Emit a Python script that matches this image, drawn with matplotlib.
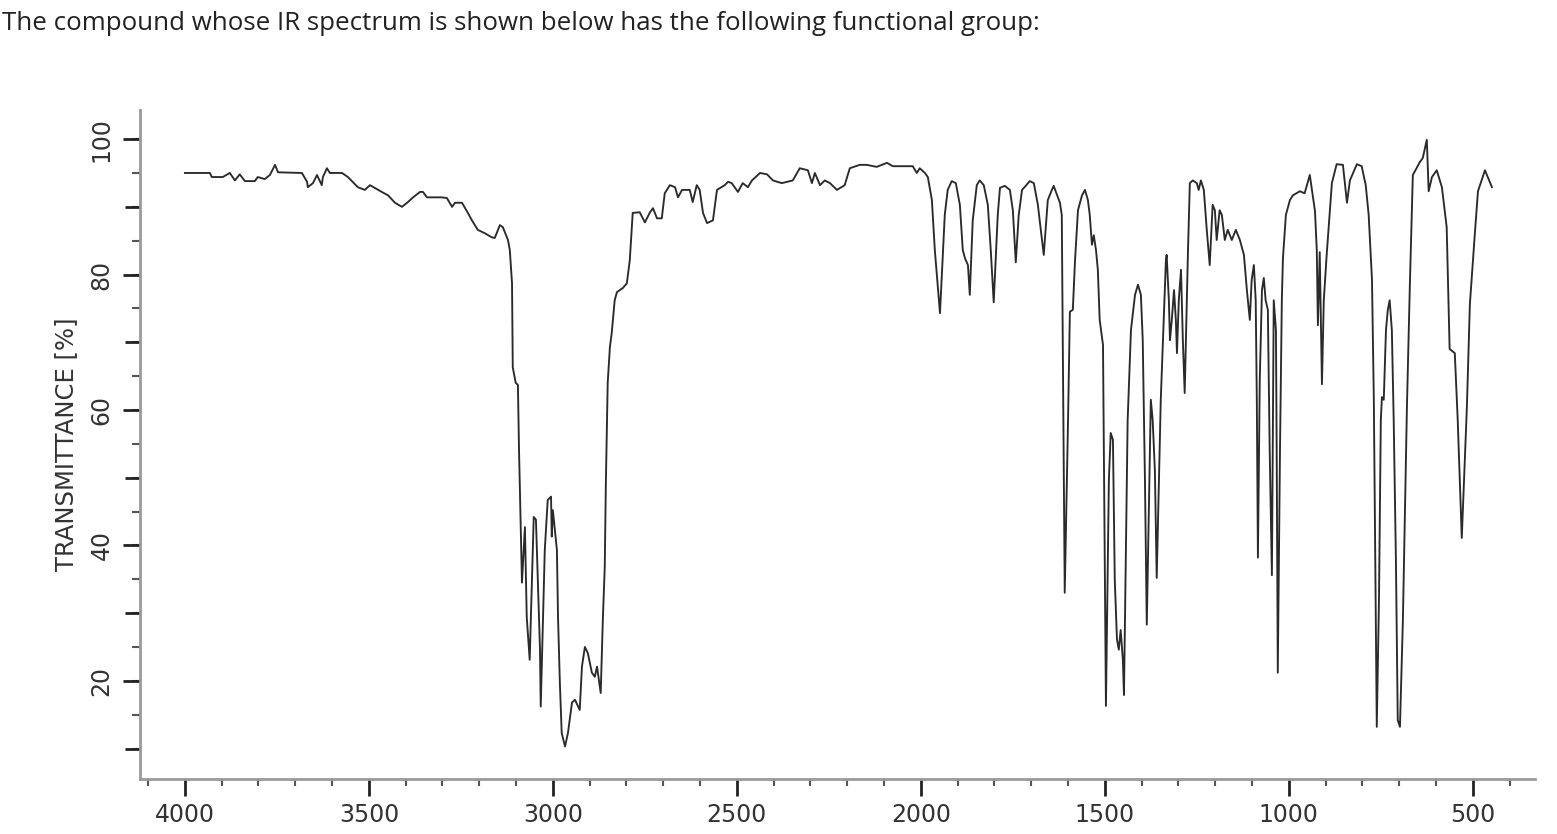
import matplotlib
matplotlib.use("Agg")
import matplotlib.pyplot as plt
from matplotlib.ticker import MultipleLocator, FixedLocator, NullFormatter

title_text = "The compound whose IR spectrum is shown below has the following functional group:"
y_label = "TRANSMITTANCE [%]"

wavenumber = [
    4000, 3932, 3927, 3897, 3878, 3864, 3851, 3837, 3810, 3802, 3783, 3769, 3755, 3747,
    3682, 3668, 3666, 3652, 3641, 3628, 3625, 3614, 3606, 3573, 3557, 3530, 3511, 3497,
    3465, 3448, 3429, 3410, 3394, 3380, 3361, 3353, 3342, 3302, 3288, 3274, 3266, 3247,
    3231, 3220, 3204, 3185, 3166, 3158, 3144, 3136, 3122, 3117, 3111, 3109, 3101, 3095,
    3092, 3087, 3084, 3076, 3071, 3063, 3052, 3046, 3035, 3033, 3022, 3014, 3005, 3003,
    3000, 2989, 2986, 2981, 2976, 2967, 2959, 2948, 2940, 2927, 2921, 2913, 2905, 2894,
    2886, 2880, 2870, 2864, 2859, 2856, 2851, 2845, 2840, 2832, 2826, 2810, 2799, 2791,
    2783, 2764, 2750, 2736, 2728, 2717, 2704, 2696, 2682, 2668, 2660, 2649, 2628, 2620,
    2609, 2601, 2592, 2581, 2565, 2554, 2533, 2524, 2514, 2497, 2484, 2470, 2459, 2437,
    2418, 2402, 2378, 2348, 2329, 2307, 2296, 2288, 2274, 2261, 2247, 2228, 2207, 2193,
    2166, 2147, 2120, 2092, 2076, 2022, 2011, 2003, 1989, 1981,
    1970, 1962, 1948, 1935, 1927, 1916, 1905, 1894, 1886, 1880, 1872, 1867, 1859, 1848,
    1840, 1829, 1818, 1810, 1802, 1791, 1785, 1772, 1758, 1750, 1742, 1734, 1725, 1715,
    1704, 1693, 1682, 1666, 1655, 1644, 1639, 1633, 1622, 1617, 1609, 1600, 1595, 1587,
    1581, 1573, 1562, 1554, 1546, 1541, 1535, 1530, 1524, 1519, 1514, 1505, 1497, 1489,
    1484, 1478, 1473, 1467, 1462, 1457, 1451, 1448, 1443, 1438, 1429, 1418, 1410, 1402,
    1397, 1391, 1386, 1380, 1375, 1370, 1364, 1359, 1353, 1348, 1342, 1334, 1332, 1326,
    1323, 1318, 1312, 1307, 1304, 1299, 1293, 1288, 1283, 1274, 1269, 1261, 1250, 1245,
    1239, 1231, 1223, 1215, 1207, 1201, 1196, 1188, 1182, 1174, 1166, 1155, 1144, 1133,
    1122, 1114, 1106, 1101, 1095, 1090, 1087, 1084, 1079, 1073, 1068, 1063, 1057, 1052,
    1046, 1043, 1041, 1035, 1033, 1030, 1024, 1019, 1016, 1008, 997, 989, 970, 957,
    943, 929, 924, 921, 916, 910, 905, 897, 883, 870, 853, 842, 834, 815, 802, 791, 783,
    774, 769, 761, 755, 750, 747, 742, 736, 731, 726, 720, 715, 709, 704, 698, 690, 679,
    671, 663, 644, 636, 625, 620, 611, 598, 584, 571, 563, 549, 541, 530, 516, 508, 494,
    486, 467, 448,
]

transmittance = [
    95.0, 95.0, 94.4, 94.4, 95.0, 93.9, 94.8, 93.8, 93.8, 94.4, 94.1, 94.7, 96.2, 95.1,
    95.0, 93.7, 92.9, 93.5, 94.7, 93.2, 94.4, 95.7, 95.0, 95.0, 94.4, 92.9, 92.5, 93.2,
    92.2, 91.7, 90.6, 90.0, 90.7, 91.4, 92.2, 92.2, 91.4, 91.4, 91.3, 90.0, 90.6, 90.6,
    89.1, 88.0, 86.6, 86.1, 85.5, 85.4, 87.3, 87.0, 85.1, 83.6, 78.7, 66.3, 64.0, 63.7,
    54.1, 41.8, 34.5, 42.7, 29.4, 23.1, 44.2, 43.8, 24.6, 16.2, 39.3, 46.7, 47.2, 41.3,
    45.2, 39.3, 29.4, 19.7, 12.3, 10.3, 12.3, 16.8, 17.2, 15.7, 22.1, 25.0, 24.1, 21.2,
    20.6, 22.1, 18.2, 29.4, 36.8, 49.2, 64.0, 69.3, 71.4, 76.2, 77.4, 78.0, 78.7, 82.1,
    89.1, 89.2, 87.7, 89.2, 89.8, 88.3, 88.3, 92.0, 93.2, 92.9, 91.4, 92.5, 92.5, 90.7,
    93.2, 92.5, 89.1, 87.6, 88.0, 92.5, 93.2, 93.7, 93.5, 92.2, 93.5, 92.9, 93.9, 95.0,
    94.8, 93.9, 93.5, 93.9, 95.7, 95.4, 93.5, 95.0, 93.2, 93.9, 93.5, 92.5, 93.2, 95.7,
    96.2, 96.2, 95.9, 96.5, 96.0, 96.0, 95.0, 95.7, 95.0, 94.4,
    91.0, 83.6, 74.3, 88.8, 92.5, 93.8, 93.5, 90.3, 83.6, 82.4, 81.4, 77.0, 88.0, 93.2,
    93.9, 93.2, 90.3, 83.6, 75.9, 88.8, 92.8, 93.1, 92.5, 89.5, 81.8, 88.8, 92.5, 93.1,
    93.8, 93.5, 90.3, 82.9, 91.0, 92.5, 93.1, 92.2, 90.6, 88.8, 33.0, 58.5, 74.5, 74.8,
    82.1, 89.5, 91.7, 92.5, 91.0, 88.8, 84.4, 85.8, 83.6, 80.7, 73.3, 69.6, 16.3, 49.7,
    56.6, 55.6, 34.9, 26.1, 24.6, 27.5, 23.1, 17.9, 37.9, 58.5, 71.8, 77.0, 78.5, 77.0,
    70.3, 49.7, 28.3, 46.7, 61.5, 58.5, 51.1, 35.2, 49.7, 61.5, 70.3, 82.1, 82.9, 76.2,
    70.3, 73.3, 77.7, 73.3, 68.4, 76.2, 80.7, 70.3, 62.5, 83.6, 93.5, 93.9, 93.5, 92.5,
    93.9, 92.5, 86.6, 81.4, 90.3, 89.5, 85.1, 89.5, 88.8, 85.1, 86.6, 85.1, 86.6, 85.1,
    82.9, 77.7, 73.3, 79.2, 81.4, 76.2, 61.5, 38.2, 64.4, 77.7, 79.5, 76.2, 74.8, 54.1,
    35.6, 61.5, 76.2, 71.8, 54.1, 21.2, 54.1, 76.2, 82.4, 88.8, 91.0, 91.7, 92.3, 92.0,
    94.7, 89.4, 83.6, 72.5, 83.3, 63.8, 76.2, 83.0, 93.5, 96.3, 96.2, 90.6, 93.9, 96.3,
    96.0, 93.2, 88.8,
    79.2, 61.5, 13.2, 32.0, 58.5, 61.9, 61.5, 71.8, 74.8, 76.2, 71.8, 58.5, 37.9, 14.2,
    13.2, 29.0, 60.6, 78.6, 94.7, 96.6, 97.2, 99.9, 92.3, 94.4, 95.4, 92.9, 87.0, 69.0,
    68.4, 58.5, 41.1, 60.6, 75.6, 86.4, 92.3, 95.4, 92.9,
]

x_major_ticks = [4000, 3500, 3000, 2500, 2000, 1500, 1000, 500]
y_major_ticks = [20, 40, 60, 80, 100]

W, H = 1557, 834
fig = plt.figure(figsize=(W / 100, H / 100), dpi=100)
ax = fig.add_axes([140 / W, 1 - 779 / H, (1535 - 140) / W, (779 - 110) / H])

ax.plot(wavenumber, transmittance, color="#2a2a2a", lw=1.35, solid_joinstyle="round")

ax.set_xlim(4122, 331)
ax.set_ylim(5.5, 104.3)

for s in ["top", "right"]:
    ax.spines[s].set_visible(False)
for s in ["left", "bottom"]:
    ax.spines[s].set_color("#9a9a9a")
    ax.spines[s].set_linewidth(2.0)

ax.xaxis.set_major_locator(FixedLocator(x_major_ticks))
ax.xaxis.set_minor_locator(MultipleLocator(100))
ax.yaxis.set_major_locator(FixedLocator(y_major_ticks))
ax.yaxis.set_minor_locator(MultipleLocator(10))

ax.tick_params(axis="both", which="major", length=12, width=2.0, color="#222222",
               labelsize=17, labelcolor="#333333")
ax.tick_params(axis="x", which="minor", length=5, width=1.5, color="#555555")
ax.tick_params(axis="y", which="minor", length=11, width=2.0, color="#222222")
ax.tick_params(axis="x", which="major", pad=5)
ax.tick_params(axis="y", which="major", pad=7)
for lab in ax.get_yticklabels():
    lab.set_rotation(90)
    lab.set_va("center")

# extra short ticks at 5 % steps
sec = ax.secondary_yaxis("left")
sec.spines["left"].set_visible(False)
sec.yaxis.set_major_locator(MultipleLocator(5))
sec.yaxis.set_major_formatter(NullFormatter())
sec.tick_params(axis="y", which="major", length=6, width=1.5, color="#555555")

ax.set_ylabel(y_label, fontsize=17.5, color="#333333", labelpad=8)

fig.text(2 / W, 1 - 23 / H, title_text, fontsize=18.6, family="Open Sans",
         color="#222222", ha="left", va="center")

fig.savefig("out.png", dpi=100)
